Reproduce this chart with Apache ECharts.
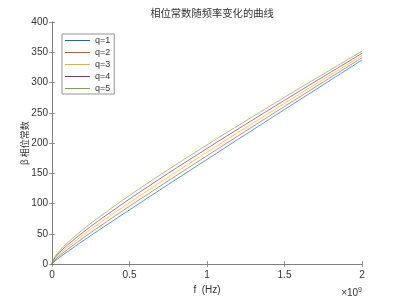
<!DOCTYPE html>
<html><head><meta charset="utf-8">
<script src="https://cdn.jsdelivr.net/npm/echarts@6/dist/echarts.min.js"></script>
<style>html,body{margin:0;padding:0;background:#fff}#c{width:400px;height:300px}</style>
</head><body><div id="c"></div>
<script>
// frequency (x 1e9 Hz)
const freq = [0, 0.005, 0.02, 0.05, 0.1, 0.2, 0.3, 0.5, 0.75, 1, 1.25, 1.5, 1.75, 2];
const seriesNames = ['q=1', 'q=2', 'q=3', 'q=4', 'q=5'];
const q1 = [0, 1.9, 5.3, 11.3, 20.5, 38.3, 55.6, 89.6, 131.5, 173, 214.3, 255.4, 296.3, 337.2];
const q2 = [0, 2.8, 7.1, 14.0, 24.2, 43.0, 60.9, 95.6, 137.6, 179, 219.9, 260.5, 300.8, 340.9];
const q3 = [0, 3.8, 9.0, 16.8, 27.9, 47.8, 66.3, 101.5, 143.8, 185, 225.5, 265.5, 305.2, 344.5];
const q4 = [0, 4.8, 10.8, 19.6, 31.6, 52.5, 71.6, 107.5, 150.0, 191, 231.1, 270.6, 309.6, 348.2];
const q5 = [0, 5.7, 12.7, 22.4, 35.3, 57.2, 76.9, 113.4, 156.1, 197, 236.7, 275.7, 314.0, 351.8];
const xTicks = ['0', '0.5', '1', '1.5', '2'];
const yTicks = [0, 50, 100, 150, 200, 250, 300, 350, 400];

const allY = [q1, q2, q3, q4, q5];
const colors = ['#0072BD', '#D95319', '#EDB120', '#7E2F8E', '#77AC30'];
const axisColor = '#7a7a7a';
const textColor = '#333';
const font = 'Liberation Sans, Arial, sans-serif';

const chart = echarts.init(document.getElementById('c'), null, {renderer: 'canvas'});
const baseX = {
  type: 'value', min: 0, max: 2e9, interval: 0.5e9,
  axisLine: {show: true, lineStyle: {color: axisColor, width: 0.8}},
  axisTick: {show: true, inside: true, length: 3, lineStyle: {color: axisColor, width: 0.8}},
  splitLine: {show: false}
};
const baseY = {
  type: 'value', min: 0, max: 400, interval: 50,
  axisLine: {show: true, lineStyle: {color: axisColor, width: 0.8}},
  axisTick: {show: true, inside: true, length: 3, lineStyle: {color: axisColor, width: 0.8}},
  splitLine: {show: false}
};
chart.setOption({
  animation: false,
  backgroundColor: '#fff',
  title: {
    text: '相位常数随频率变化的曲线', left: 207, top: 3, textAlign: 'center',
    textStyle: {fontFamily: 'Noto Sans CJK SC', fontSize: 10.3, fontWeight: 'normal', color: textColor}
  },
  grid: {left: 52, right: 38, top: 22, bottom: 34},
  legend: {
    orient: 'vertical', left: 62, top: 34, padding: [2, 4, 1, 3],
    icon: 'rect', itemWidth: 25, itemHeight: 1, itemGap: 3, symbolKeepAspect: false,
    borderColor: axisColor, borderWidth: 0.8, backgroundColor: '#fff', borderRadius: 0,
    textStyle: {fontFamily: font, fontSize: 9, lineHeight: 9, color: textColor},
    data: seriesNames
  },
  xAxis: [
    Object.assign({}, baseX, {
      position: 'bottom',
      name: 'f  (Hz)', nameLocation: 'middle', nameGap: 17,
      nameTextStyle: {fontFamily: font, fontSize: 10, color: textColor},
      axisLabel: {fontFamily: font, fontSize: 10, color: textColor, margin: 6,
        formatter: v => xTicks[Math.round(v / 0.5e9)]}
    }),
    Object.assign({}, baseX, {position: 'top', axisLabel: {show: false}})
  ],
  yAxis: [
    Object.assign({}, baseY, {
      position: 'left',
      name: 'β 相位常数', nameLocation: 'middle', nameGap: 23, nameRotate: 90,
      nameMoveOverlap: false,
      nameTextStyle: {fontFamily: 'Noto Sans CJK SC', fontSize: 9, color: textColor},
      axisLabel: {fontFamily: font, fontSize: 10, color: textColor, margin: 4,
        formatter: v => yTicks.indexOf(v) >= 0 ? String(v) : ''}
    }),
    Object.assign({}, baseY, {position: 'right', axisLabel: {show: false}})
  ],
  graphic: [{
    type: 'text', right: 38, top: 287,
    style: {
      text: '×10{s|9}',
      rich: {s: {fontSize: 7, verticalAlign: 'top', padding: [0, 0, 6, 0], fontFamily: font, fill: textColor}},
      fontFamily: font, fontSize: 10, fill: textColor
    }
  }],
  series: allY.map((arr, i) => ({
    name: seriesNames[i], type: 'line', symbol: 'none', smooth: 0.3,
    xAxisIndex: 0, yAxisIndex: 0,
    lineStyle: {width: 0.7, color: colors[i]}, itemStyle: {color: colors[i]},
    data: freq.map((f, j) => [f * 1e9, arr[j]])
  }))
});
</script></body></html>
